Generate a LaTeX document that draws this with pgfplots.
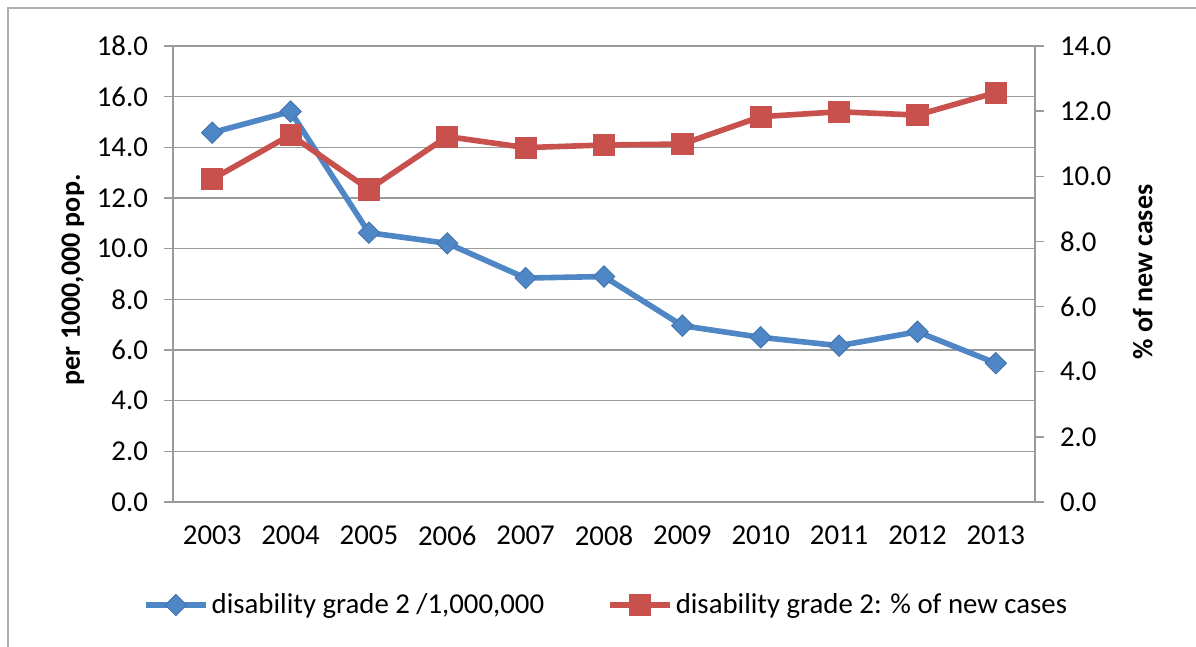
\documentclass[border=0pt]{standalone}
\usepackage{pgfplots}
\pgfplotsset{compat=1.18}
\usepackage{fontspec}
\setmainfont{Carlito}

\definecolor{sblue}{RGB}{79,134,198}
\definecolor{sred}{RGB}{200,80,77}
\definecolor{gridgray}{RGB}{155,155,155}

\pgfplotsset{
  common/.style={
    scale only axis, width=431pt, height=228pt,
    at={(86.5pt,72.5pt)}, anchor=south west,
    xmin=-0.5, xmax=10.5,
    axis line style={gridgray, line width=0.7pt},
    tick style={gridgray, line width=0.7pt},
    tick align=outside,
    major tick length=4.5pt,
    minor tick length=4.5pt,
    yticklabel style={/pgf/number format/fixed, /pgf/number format/fixed zerofill,
      /pgf/number format/precision=1, /pgf/number format/assume math mode=true},
    tick label style={font=\fontsize{14.4}{16}\selectfont},
    label style={font=\fontsize{14}{16}\selectfont\bfseries},
  },
  blueline/.style={sblue, line width=2.8pt, mark=square*, mark size=3.8pt,
    mark options={rotate=45, solid, fill=sblue, draw=sblue!85!black, line width=0.4pt}},
  redline/.style={sred, line width=2.8pt, mark=square*, mark size=5.3pt,
    mark options={solid, fill=sred, draw=sred, line width=0.4pt}},
}

\begin{document}
\begin{tikzpicture}
\useasboundingbox (0,0) rectangle (598pt,323.5pt);
\draw[gridgray!80, line width=0.8pt] (4pt,0) -- (4pt,319.5pt) -- (598pt,319.5pt);

% left axis: per 1,000,000 population
\begin{axis}[common,
  axis y line*=left, axis x line*=bottom,
  ymin=0, ymax=18, ytick={0,2,...,18},
  ymajorgrids, grid style={gridgray, line width=0.7pt},
  xtick={0,...,10},
  xticklabels={2003,2004,2005,2006,2007,2008,2009,2010,2011,2012,2013},
  xtick style={draw=none},
  minor xtick={-0.5,0.5,...,10.5},
  xticklabel style={yshift=-4pt},
  yticklabel style={xshift=-4.5pt},
  ylabel={per 1000,000 pop.},
  ylabel style={at={(axis description cs:-0.116,0.487)}, anchor=center},
  legend columns=2,
  legend style={at={(axis description cs:0.503,-0.226)}, anchor=center, draw=none,
    font=\fontsize{14.4}{16}\selectfont,
    nodes={inner xsep=1.5pt},
    /tikz/every even column/.append style={column sep=30pt}},
  legend image code/.code={\draw[mark repeat=2, mark phase=2, #1]
    plot coordinates {(0pt,0pt) (15pt,0pt) (30pt,0pt)};},
]
\addplot[blueline] coordinates {
  (0,14.58) (1,15.41) (2,10.63) (3,10.21) (4,8.84) (5,8.90)
  (6,6.96) (7,6.50) (8,6.17) (9,6.72) (10,5.48)
};
\addlegendentry{disability grade 2 /1,000,000}
\addlegendimage{redline}
\addlegendentry{disability grade 2: \% of new cases}
\end{axis}

% right axis: percentage of new cases
\begin{axis}[common,
  axis y line*=right, axis x line=none,
  ymin=0, ymax=14, ytick={0,2,...,14},
  yticklabel style={xshift=4.5pt},
  ylabel={\% of new cases},
  ylabel style={at={(axis description cs:1.125,0.504)}, anchor=center},
]
\addplot[redline] coordinates {
  (0,9.91) (1,11.27) (2,9.60) (3,11.22) (4,10.88) (5,10.96)
  (6,10.99) (7,11.83) (8,11.98) (9,11.88) (10,12.57)
};
\end{axis}
\end{tikzpicture}
\end{document}
